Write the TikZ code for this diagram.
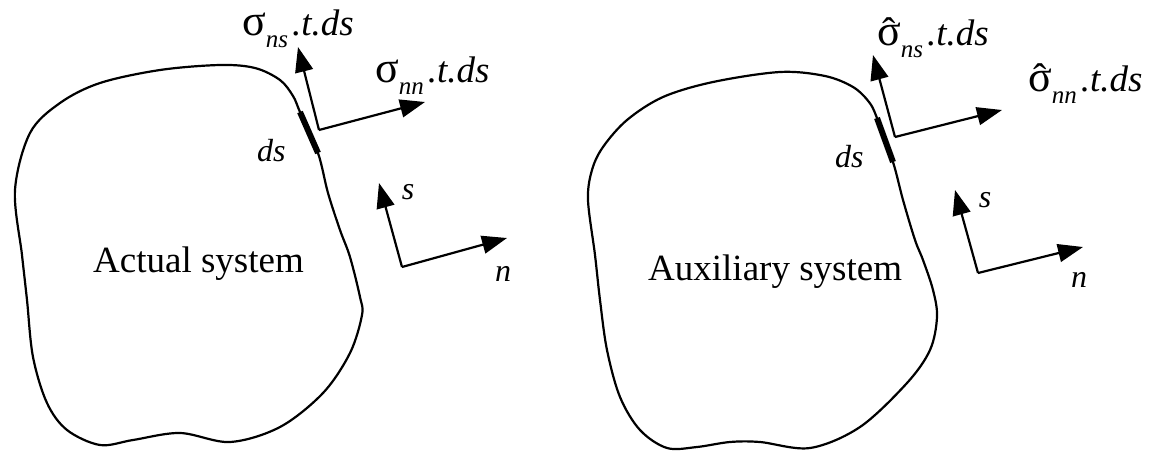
\documentclass[tikz,border=0pt]{standalone}
\usepackage{fontspec}
\setmainfont{Liberation Serif}
\usetikzlibrary{arrows.meta}
\tikzset{
  boundary/.style={line width=2.2pt, line join=round},
  segment/.style={line width=6pt},
  force/.style={line width=2.2pt, -{Triangle[length=25pt,width=18pt]}},
  lbl/.style={inner sep=0pt, font=\fontsize{32}{36}\selectfont\itshape},
  stresslbl/.style={inner sep=0pt, anchor=base west, font=\fontsize{37}{40}\selectfont},
  body/.style={inner sep=0pt, anchor=base west, font=\fontsize{37}{42}\selectfont}
}
\newcommand{\sig}{{\fontsize{44}{44}\selectfont σ}}
\newcommand{\sighat}{\ooalign{\sig\cr\hidewidth{\fontsize{40}{40}\selectfont ˆ}\hidewidth\cr}}
\newcommand{\stress}[2]{#1\raisebox{-12pt}{\fontsize{25}{26}\selectfont\itshape #2}\hspace{4pt}\textit{.t.ds}}

\begin{document}
\begin{tikzpicture}[x=1pt, y=-1pt]
    \useasboundingbox (0,0) rectangle (1165,450);

    % Actual system
    \draw[boundary] plot[smooth cycle, tension=0.55] coordinates {
        (22,255) (15,190) (30,133) (60,103) (100,83) (160,70) (220,65)
        (255,68) (280,80) (293,96) (300,112) (318,153) (328,193) (340,230)
        (350,257) (360,297) (362,315) (350,353) (323,393) (280,427) (230,442)
        (180,433) (133,440) (100,445) (67,430) (47,403) (33,357) (27,300)};
    \coordinate (ds1a) at (300,112);
    \coordinate (ds1b) at (318,153);
    \draw[segment] (ds1a) -- (ds1b);

    \coordinate (o1) at (319,130);
    \coordinate (fs1) at (298,47);
    \coordinate (fn1) at (425,102);
    \draw[force] (o1) -- (fs1);
    \draw[force] (o1) -- (fn1);

    \coordinate (a1) at (402,267);
    \coordinate (s1) at (379,183);
    \coordinate (n1) at (507,238);
    \draw[force] (a1) -- (s1);
    \draw[force] (a1) -- (n1);

    \node[stresslbl] (lns1) at (242,35) {\stress{\sig}{ns}};
    \node[stresslbl] (lnn1) at (375,82) {\stress{\sig}{nn}};
    \node[lbl, anchor=base west] (lds1) at (257,161) {ds};
    \node[lbl] (ls1) at (408,192) {s};
    \node[lbl] (ln1) at (503,274) {n};
    \node[body] (actual) at (93,272) {Actual system};

    % Auxiliary system
    \draw[boundary] plot[smooth cycle, tension=0.55] coordinates {
        (595,255) (588,200) (592,170) (603,147) (627,120) (663,97) (713,82)
        (780,72) (825,76) (853,87) (869,102) (877,118) (893,162) (903,200)
        (915,240) (923,260) (933,290) (937,317) (930,350) (907,383) (860,427)
        (810,448) (760,442) (730,442) (697,447) (667,448) (640,430) (620,397)
        (607,350) (600,300)};
    \coordinate (ds2a) at (877,118);
    \coordinate (ds2b) at (893,162);
    \draw[segment] (ds2a) -- (ds2b);

    \coordinate (o2) at (895,137);
    \coordinate (fs2) at (873,55);
    \coordinate (fn2) at (1002,110);
    \draw[force] (o2) -- (fs2);
    \draw[force] (o2) -- (fn2);

    \coordinate (a2) at (978,273);
    \coordinate (s2) at (955,190);
    \coordinate (n2) at (1083,247);
    \draw[force] (a2) -- (s2);
    \draw[force] (a2) -- (n2);

    \node[stresslbl] (lns2) at (877,45) {\stress{\sighat}{ns}};
    \node[stresslbl] (lnn2) at (1028,91) {\stress{\sighat}{nn}};
    \node[lbl, anchor=base west] (lds2) at (835,167) {ds};
    \node[lbl] (ls2) at (985,200) {s};
    \node[lbl] (ln2) at (1079,280) {n};
    \node[body] (auxiliary) at (648,280) {Auxiliary system};

\end{tikzpicture}
\end{document}
